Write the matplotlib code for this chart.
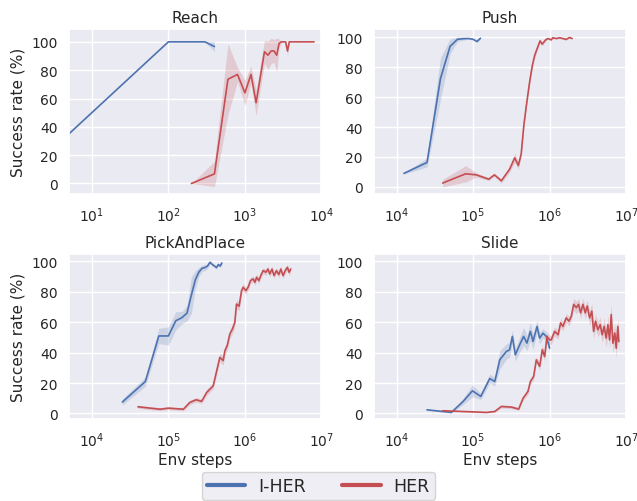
import numpy as np
import matplotlib
matplotlib.use("Agg")
import matplotlib.pyplot as plt
import seaborn as sns
from matplotlib.lines import Line2D

sns.set_theme(style="darkgrid")
plt.rcParams["font.family"] = ["DejaVu Sans"]

BLUE = "#4C72B0"
RED = "#C44E52"

# ---- Reach ----
reach_iher_x = [1, 100, 200, 300, 400]
reach_iher_y = [0, 100, 100, 100, 96.7]
reach_iher_sd = [0, 0, 0, 0, 3.5]

reach_her_x = [200, 400, 600, 800, 1000, 1200, 1400, 1800, 2000, 2200, 2400, 2600,
               2800, 3000, 3200, 3400, 3600, 3800, 4000, 5000, 6000, 7000, 8000]
reach_her_y = [0, 6.8, 73.6, 77, 64, 77, 57, 93, 90.6, 93.6, 93.6, 90.6,
               99, 100, 100, 100, 93.5, 100, 100, 100, 100, 100, 100]
reach_her_sd = [0, 9, 25, 5, 9, 6, 9, 8, 10, 9, 8, 12,
                3, 0.5, 0, 0, 3, 0, 0, 0, 0, 0, 0]

# ---- Push ----
push_iher_x = [12500, 25000, 37500, 50000, 62500, 75000, 87500, 100000, 112500, 125000]
push_iher_y = [9, 16.3, 72.5, 94, 98.8, 99.2, 99.3, 98.8, 97.3, 99.5]
push_iher_sd = [0.5, 3, 14, 5, 1.5, 1, 0.5, 0.5, 0.5, 0.5]

push_her_x = [40000, 80000, 110000, 160000, 190000, 234000, 300000, 350000, 390000,
              425000, 460000, 495000, 547000, 593000, 635000, 680000, 750000, 800000,
              885000, 950000, 1.05e6, 1.1e6, 1.22e6, 1.35e6, 1.49e6, 1.64e6, 1.82e6, 1.97e6]
push_her_y = [2.5, 8.7, 8, 5.1, 8, 4, 11.8, 19.4, 14.3,
              22, 41, 54, 70, 81, 87.7, 92, 97.7, 95.5,
              98.4, 99.3, 98.4, 99.8, 99.3, 99.8, 99.3, 98.7, 100, 99.3]
push_her_sd = [2.5, 5.5, 1.5, 1, 1, 1.5, 2, 3, 2.5,
               2, 2, 2, 2, 2, 2, 1.5, 1.5, 1,
               1, 0.5, 0.5, 0.5, 0.5, 0.5, 0.5, 0.5, 0.5, 0.5]

# ---- PickAndPlace ----
pick_iher_x = [25000, 50000, 75000, 100000, 125000, 150000, 175000, 200000, 225000, 250000,
               275000, 300000, 325000, 350000, 375000, 400000, 425000, 450000, 475000, 500000]
pick_iher_y = [7.5, 21, 51, 51, 61, 63, 66, 78, 88, 93,
               95.5, 96, 97, 99.5, 98, 97, 96, 98, 97, 99]
pick_iher_sd = [2, 3, 5, 6, 6, 4, 5, 12, 6, 3,
                2, 2, 1.5, 1, 1, 1, 1, 1, 1, 1]

pick_her_x = [40000, 78000, 100000, 157000, 190000, 230000, 272000, 316000, 385000, 470000,
              520000, 547000, 587000, 635000, 688000, 738000, 776000, 840000, 903000, 948000,
              1.03e6, 1.1e6, 1.18e6, 1.28e6, 1.35e6, 1.42e6, 1.52e6, 1.61e6, 1.73e6, 1.87e6,
              2.0e6, 2.11e6, 2.26e6, 2.4e6, 2.58e6, 2.77e6, 2.94e6, 3.15e6, 3.38e6, 3.59e6,
              3.77e6, 3.97e6]
pick_her_y = [4.4, 2.8, 3.5, 2.8, 7.2, 9, 8, 13.8, 18.2, 36.9,
              34.8, 41.3, 44.6, 52.3, 55.6, 60, 72, 70.6, 80.8, 83,
              80.8, 83, 87.4, 88.5, 86.3, 89.6, 87.4, 90.7, 94, 92.9,
              95, 91.8, 95, 90.7, 94, 91.4, 95, 90.7, 94.3, 96.1,
              92.9, 95]
pick_her_sd = [1, 1, 1, 1, 1.5, 1.5, 1.5, 2, 2, 3,
               3, 3, 3, 3, 3, 3, 3, 3, 2.5, 2.5,
               2.5, 2, 2, 2, 2, 2, 2, 2, 2, 2,
               2, 2, 2, 2, 2, 2, 2, 2, 2, 2,
               2, 2]

# ---- Slide ----
slide_iher_x = [25000, 52000, 74000, 98000, 126000, 165000, 192000, 223000, 272000, 300000,
                326000, 356000, 406000, 457000, 505000, 560000, 607000, 684000, 741000, 819000,
                905000, 1e6]
slide_iher_y = [2.4, 0.7, 7.9, 14.9, 11.2, 23, 21, 35.3, 40.8, 41.9,
                50.7, 38.6, 45.2, 50.7, 46.3, 54, 47.4, 57.2, 49.6, 52.8,
                50.7, 43]
slide_iher_sd = [0.5, 0.5, 2, 4, 2, 3, 3, 6, 5, 5,
                 4, 4, 5, 6, 5, 6, 5, 4, 4, 3,
                 3, 3]

slide_her_x = [40000, 74000, 150000, 192000, 234000, 316000, 394000, 449000, 521000, 560000,
               618000, 670000, 741000, 802000, 861000, 923000, 1e6, 1.05e6, 1.16e6, 1.29e6,
               1.39e6, 1.49e6, 1.65e6, 1.79e6, 1.92e6, 2.06e6, 2.23e6, 2.39e6, 2.54e6, 2.72e6,
               2.92e6, 3.1e6, 3.33e6, 3.56e6, 3.75e6, 3.98e6, 4.27e6, 4.58e6, 4.86e6, 5.16e6,
               5.48e6, 5.77e6, 6.07e6, 6.37e6, 6.7e6, 7.11e6, 7.41e6, 7.78e6, 8.02e6]
slide_her_y = [1.8, 1.3, 0.7, 1.3, 4.6, 4.2, 2.9, 10, 14.5, 21,
               24.3, 35.3, 31, 42, 37.5, 50.7, 48.5, 48.4, 54, 51.8,
               59.6, 57.3, 62.9, 60.7, 64, 71.8, 69.6, 71.8, 66.2, 71.8,
               66.2, 70.7, 62.9, 67.3, 54, 60.7, 55.1, 58.4, 51.8, 57.3,
               49.6, 58.4, 48.4, 65.1, 46.2, 52.9, 42.9, 57.3, 47.3]
slide_her_sd = [0.5, 0.5, 0.5, 0.5, 1, 1, 1, 1.5, 2, 2,
                2, 2, 2.5, 3, 3, 3, 3, 3, 3, 3,
                3, 3, 3, 3, 3, 4, 4, 4, 4, 4,
                4, 4, 5, 5, 5, 5, 5, 5, 5, 6,
                6, 6, 6, 7, 7, 6, 6, 6, 6]

panels = [
    ("Reach", reach_iher_x, reach_iher_y, reach_iher_sd,
     reach_her_x, reach_her_y, reach_her_sd, (5, 1e4), (-7.5, 109)),
    ("Push", push_iher_x, push_iher_y, push_iher_sd,
     push_her_x, push_her_y, push_her_sd, (5e3, 1e7), (-4.9, 105.6)),
    ("PickAndPlace", pick_iher_x, pick_iher_y, pick_iher_sd,
     pick_her_x, pick_her_y, pick_her_sd, (5e3, 1e7), (-3.75, 104.8)),
    ("Slide", slide_iher_x, slide_iher_y, slide_iher_sd,
     slide_her_x, slide_her_y, slide_her_sd, (5e3, 1e7), (-3.75, 104.8)),
]

fig, axes = plt.subplots(2, 2, figsize=(6.37, 5.02), dpi=100)
plt.subplots_adjust(left=0.108, right=0.983, top=0.940, bottom=0.163,
                    wspace=0.206, hspace=0.364)

for ax, (title, bx, by, bsd, rx, ry, rsd, xlim, ylim) in zip(axes.flat, panels):
    for x, y, sd, c in [(bx, by, bsd, BLUE), (rx, ry, rsd, RED)]:
        x = np.array(x, dtype=float)
        y = np.array(y, dtype=float)
        sd = np.array(sd, dtype=float)
        ax.fill_between(x, y - sd, y + sd, color=c, alpha=0.2, linewidth=0)
        ax.plot(x, y, color=c, linewidth=1.2)
    ax.set_xscale("log")
    ax.set_xlim(*xlim)
    ax.set_ylim(*ylim)
    ax.set_yticks([0, 20, 40, 60, 80, 100])
    ax.set_title(title, fontsize=11, pad=5)
    ax.tick_params(labelsize=10, pad=2)
    ax.minorticks_off()

axes[0, 0].set_ylabel("Success rate (%)", fontsize=11)
axes[1, 0].set_ylabel("Success rate (%)", fontsize=11)
axes[1, 0].set_xlabel("Env steps", fontsize=11, labelpad=2)
axes[1, 1].set_xlabel("Env steps", fontsize=11, labelpad=2)

handles = [Line2D([0], [0], color=BLUE, lw=3), Line2D([0], [0], color=RED, lw=3)]
fig.legend(handles, ["I-HER", "HER"], loc="lower center", ncol=2,
           bbox_to_anchor=(0.5, 0.0), fontsize=12.5, borderaxespad=0.05,
           borderpad=0.3, handlelength=2.2, handletextpad=0.75, columnspacing=2.1)

plt.savefig("out.png")
plt.close()
